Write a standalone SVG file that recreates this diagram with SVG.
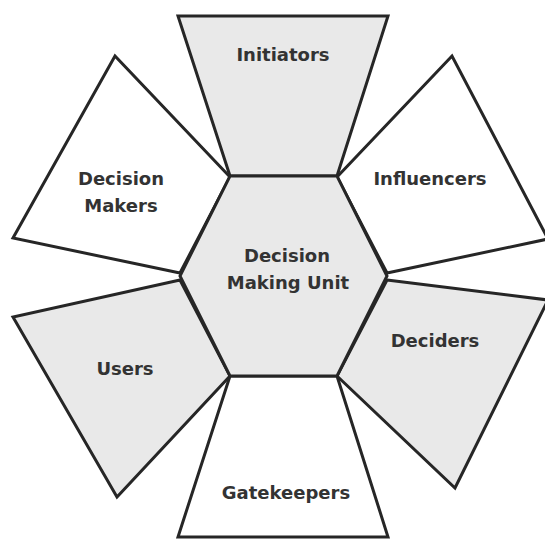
<svg xmlns="http://www.w3.org/2000/svg" width="545" height="540" viewBox="0 0 545 540">
<style>
.s{stroke:#262626;stroke-width:3;stroke-linejoin:miter}
.g{fill:#e9e9e9}
.w{fill:#ffffff}
text{font-family:"DejaVu Sans",Verdana,sans-serif;font-weight:bold;font-size:18px;fill:#333333;text-anchor:middle;dominant-baseline:central}
</style>
<rect width="545" height="540" fill="#ffffff"/>
<g id="initiators">
<polygon class="s g" points="178,16 388,16 337,176 230,176"/>
<text x="283" y="54">Initiators</text>
</g>
<g id="decision-makers">
<polygon class="s w" points="230,177 115,56 13,238 180,273"/>
<text x="121" y="178">Decision</text>
<text x="121" y="205">Makers</text>
</g>
<g id="influencers">
<polygon class="s w" points="337,177 452,56 548,239 387,273"/>
<text x="430" y="178">Influencers</text>
</g>
<g id="users">
<polygon class="s g" points="180,280 13,317 117,497 230,376"/>
<text x="125" y="368">Users</text>
</g>
<g id="deciders">
<polygon class="s g" points="387,280 548,300 455,488 337,376"/>
<text x="435" y="340">Deciders</text>
</g>
<g id="gatekeepers">
<polygon class="s w" points="230,376 337,376 388,537 178,537"/>
<text x="286" y="492">Gatekeepers</text>
</g>
<g id="dmu">
<polygon class="s g" points="230,176 337,176 387,276 337,376 230,376 180,276"/>
<text x="287" y="255">Decision</text>
<text x="288" y="282">Making Unit</text>
</g>
<g id="connectors"></g>
</svg>
